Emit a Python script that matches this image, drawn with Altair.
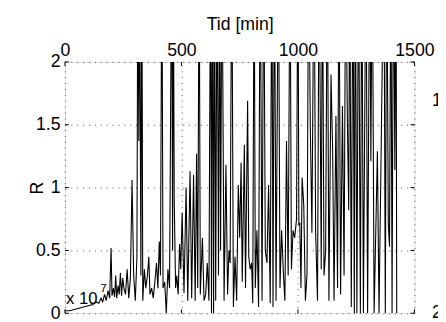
import altair as alt
import pandas as pd

# time [min]
tid = [0, 20, 40, 60, 80, 100, 120, 135, 145, 155, 162, 170, 177, 185, 192, 198, 202, 208, 213, 218,
       222, 228, 233, 238, 243, 248, 253,
       260, 267, 274, 281, 288, 295, 302, 309, 313, 317, 320, 326, 330, 334, 341, 347, 354, 360, 365,
       372, 379, 386, 393, 399, 405, 410, 416, 421, 428, 435, 442, 449, 458, 462, 465, 469, 475, 480,
       486, 492, 497, 503,
       511, 520, 527, 537, 544, 552, 559, 565, 570, 576, 581, 590, 597, 604, 611, 618, 625, 629, 633,
       638, 642, 647, 653, 659, 664, 668, 674, 683, 691, 698, 704, 709, 716, 723, 730, 737, 744, 750, 756,
       761, 770, 775, 784, 789, 795, 801, 806, 812, 817, 824, 831, 838, 846, 853, 860, 867, 874, 881,
       888, 893, 899, 906, 916, 923, 930, 938, 944, 951, 958, 966, 972, 979, 986, 994, 1000, 1004, 1008,
       1013, 1018, 1025, 1032, 1039, 1046, 1053, 1060, 1069, 1076, 1084, 1091, 1100, 1105, 1112, 1119,
       1126, 1133, 1142, 1149, 1155, 1163, 1170, 1176, 1183, 1191, 1198, 1205, 1212, 1218, 1222, 1229,
       1236, 1242, 1246, 1253, 1260,
       1268, 1274, 1281, 1292, 1299, 1308, 1313, 1319, 1327, 1341, 1348, 1369, 1375, 1381, 1388, 1393,
       1399, 1404, 1410, 1416, 1421, 1424]
# R values (values above 2 run off the top of the axes)
r = [0.02, 0.02, 0.03, 0.04, 0.05, 0.06, 0.07, 0.09, 0.08, 0.12, 0.09, 0.15, 0.10, 0.18, 0.12, 0.52, 0.14, 0.20, 0.13, 0.30,
     0.12, 0.22, 0.15, 0.32, 0.14, 0.28, 0.20,
     0.15, 0.35, 0.12, 0.28, 1.06, 0.30, 0.10, 0.45, 3.0, 1.37, 3.0, 0.30, 3.0, 0.10, 0.35, 0.20, 0.30, 0.45, 0.15,
     0.20, 0.12, 0.25, 0.40, 0.20, 0.57, 0.30, 3.0, 0.20, 0.25, 0.0, 0.35, 0.20, 3.0, 0.50, 3.0, 0.90, 0.20, 0.30,
     0.15, 0.55, 0.35, 0.80,
     0.16, 1.00, 0.10, 1.13, 0.12, 1.10, 0.10, 1.27, 0.20, 3.0, 0.15, 0.60, 0.10, 0.15, 0.40, 0.10, 3.0, 0.0, 3.0,
     0.0, 3.0, 0.10, 3.0, 0.30, 3.0, 0.50, 3.0, 0.10, 1.18, 0.15, 0.50, 0.40, 3.0, 0.05, 0.45, 0.10, 1.02, 0.60, 1.20,
     0.25, 1.34, 0.20, 1.69, 0.45, 0.35, 0.40, 0.08, 3.0, 0.20, 0.66, 0.05, 3.0, 0.10, 3.0, 0.50, 0.40, 1.02, 0.08,
     3.0, 0.05, 3.0, 0.10, 3.0, 0.20, 0.66, 0.30, 0.10, 1.37, 0.30, 3.0, 0.35, 0.66, 0.60, 0.75, 3.0, 0.70, 0.72,
     0.20, 1.08, 0.86, 0.10, 0.31, 3.0, 1.50, 0.64, 3.0, 0.64, 0.10, 3.0, 0.35, 3.0, 0.30, 0.50,
     3.0, 0.10, 1.90, 1.29, 0.10, 1.57, 0.20, 3.0, 0.15, 1.65, 0.30, 3.0, 1.55, 0.82, 3.0, 0.05,
     3.0, 0.0, 3.0, 0.0, 3.0,
     0.0, 3.0, 0.0, 3.0, 0.0, 3.0, 1.21, 3.0, 0.0, 1.29, 0.0, 3.0, 0.0, 3.0, 0.70, 0.53,
     3.0, 0.0, 3.0, 1.14, 3.0, 0.0]

x_ticks = [0, 500, 1000, 1500]
y_ticks = [0, 0.5, 1, 1.5, 2]

df = pd.DataFrame({"t": tid, "R": r})
xt = pd.DataFrame({"v": x_ticks})
yt = pd.DataFrame({"v": y_ticks})

FONT = "Liberation Sans"
W, H = 356, 256

xscale = alt.Scale(domain=[0, 1500], nice=False, zero=False)
yscale = alt.Scale(domain=[0, 2], nice=False, zero=False)

line = alt.Chart(df).mark_line(color="black", strokeWidth=1.1, clip=True, interpolate="linear").encode(
    x=alt.X("t:Q", scale=xscale,
            axis=alt.Axis(orient="top", values=x_ticks, format="d", title="Tid [min]",
                          titleFont=FONT, titleFontSize=18, titleFontWeight="normal", titleColor="black",
                          titlePadding=8,
                          labelFont=FONT, labelFontSize=18, labelColor="black", labelPadding=3,
                          labelFlush=False,
                          ticks=False, domain=False,
                          grid=True, gridDash=[1, 5], gridColor="#555", gridWidth=1)),
    y=alt.Y("R:Q", scale=yscale,
            axis=alt.Axis(orient="left", values=y_ticks, format="~g", title="R",
                          titleFont=FONT, titleFontSize=18, titleFontWeight="normal", titleColor="black",
                          titleX=-23, titleY=H / 2, titleAngle=270, titleAlign="center",
                          titleBaseline="alphabetic",
                          labelFont=FONT, labelFontSize=18, labelColor="black", labelPadding=5,
                          labelFlush=False,
                          ticks=False, domain=False,
                          grid=True, gridDash=[1, 5], gridColor="#555", gridWidth=1)),
)

# inward tick marks (MATLAB style)
top_ticks = alt.Chart(xt).mark_rule(color="black", strokeWidth=1).encode(
    x=alt.X("v:Q", scale=xscale), y=alt.value(0), y2=alt.value(4))
bot_ticks = alt.Chart(xt).mark_rule(color="black", strokeWidth=1).encode(
    x=alt.X("v:Q", scale=xscale), y=alt.value(H - 4), y2=alt.value(H))
left_ticks = alt.Chart(yt).mark_rule(color="black", strokeWidth=1).encode(
    y=alt.Y("v:Q", scale=yscale), x=alt.value(0), x2=alt.value(4))
right_ticks = alt.Chart(yt).mark_rule(color="black", strokeWidth=1).encode(
    y=alt.Y("v:Q", scale=yscale), x=alt.value(W - 4), x2=alt.value(W))

exp_df = pd.DataFrame({"a": ["x 10"], "b": ["7"]})
exp_main = alt.Chart(exp_df).mark_text(font=FONT, fontSize=17, align="left", baseline="middle",
                                       color="black").encode(
    text="a:N", x=alt.value(1), y=alt.value(242))
exp_sup = alt.Chart(exp_df).mark_text(font=FONT, fontSize=12, align="left", baseline="middle",
                                      color="black").encode(
    text="b:N", x=alt.value(36), y=alt.value(230))

side_df = pd.DataFrame({"s": ["1", "2"], "py": [40, 256]})
side = alt.Chart(side_df).mark_text(font=FONT, fontSize=18, align="left", baseline="middle",
                                    color="black").encode(
    text="s:N", x=alt.value(374), y=alt.Y("py:Q", scale=None))

chart = alt.layer(line, top_ticks, bot_ticks, left_ticks, right_ticks, exp_main, exp_sup, side).properties(
    width=W, height=H,
    autosize=alt.AutoSizeParams(type="none"),
    padding={"left": 58, "top": 52, "right": 24, "bottom": 6},
).configure_view(stroke="black", strokeWidth=1).configure(background="white")

chart.save("out.html", embed_options={"renderer": "svg", "actions": False})
